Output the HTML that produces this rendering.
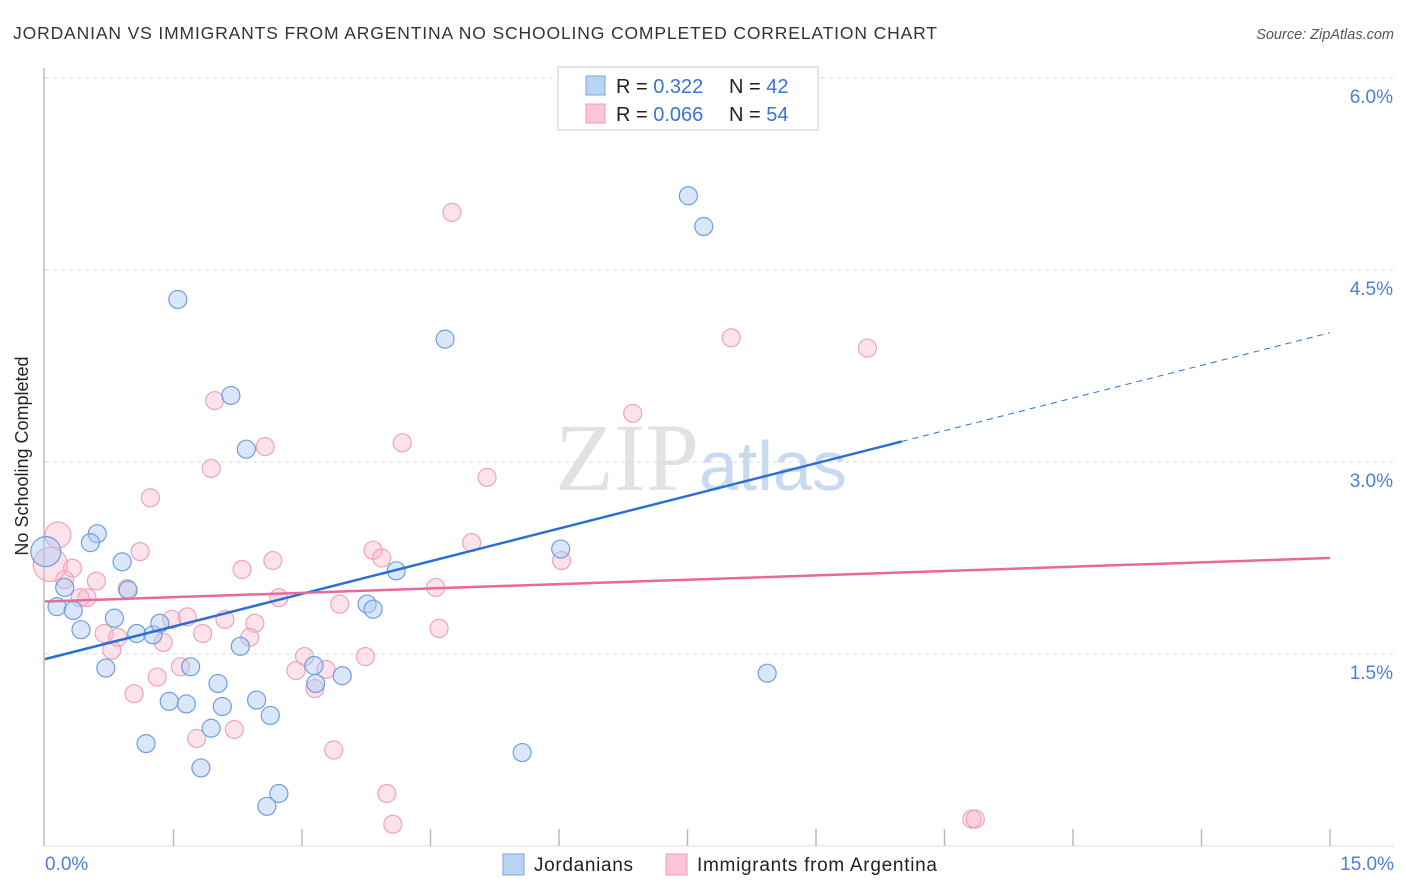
<!DOCTYPE html>
<html><head><meta charset="utf-8">
<style>
body{margin:0;background:#fff;font-family:"Liberation Sans",sans-serif;}
svg{display:block}
</style></head>
<body>
<svg id="chart" width="1406" height="892">
<text x="13" y="39" font-size="17.5" fill="#333" textLength="924" lengthAdjust="spacing">JORDANIAN VS IMMIGRANTS FROM ARGENTINA NO SCHOOLING COMPLETED CORRELATION CHART</text>
<text x="1394" y="39" font-size="14.5" fill="#555" font-style="italic" text-anchor="end">Source: ZipAtlas.com</text>
<text x="28" y="456" font-size="18" fill="#222" text-anchor="middle" transform="rotate(-90 28 456)">No Schooling Completed</text>
<text x="555" y="490" font-size="96" fill="#e2e2e2" font-family="Liberation Serif,serif">ZIP<tspan fill="#c8daf0" font-family="Liberation Sans,sans-serif" font-size="70">atlas</tspan></text>
<g id="grid"></g>
<g id="pts"></g>
<g id="lines"></g>
<g>
<rect x="558" y="67" width="260" height="63" fill="#fff" stroke="#ccc"/>
<rect x="586" y="76" width="19" height="19" fill="#b9d3f3" stroke="#7aa6e0"/>
<rect x="586" y="104" width="19" height="19" fill="#f9c6d5" stroke="#f09ab4"/>
<text x="616" y="93" font-size="20" fill="#222">R = <tspan fill="#3a74d4"> 0.322</tspan><tspan x="729">N = </tspan><tspan fill="#3a74d4">42</tspan></text>
<text x="616" y="121" font-size="20" fill="#222">R = <tspan fill="#3a74d4">0.066</tspan><tspan x="729">N = </tspan><tspan fill="#3a74d4">54</tspan></text>
</g>
<g>
<rect x="503" y="854" width="21" height="21" fill="#b9d3f3" stroke="#7aa6e0"/>
<text x="534" y="871" font-size="19" fill="#222" textLength="99">Jordanians</text>
<rect x="666" y="854" width="21" height="21" fill="#f9c6d5" stroke="#f09ab4"/>
<text x="697" y="871" font-size="19" fill="#222" textLength="240">Immigrants from Argentina</text>
</g>
</svg>
<script>
const blueX=[1.55,7.51,7.69,4.67,2.17,2.35,0.61,0.53,0.90,6.02,4.10,0.23,0.97,0.14,0.33,0.81,3.76,3.83,0.42,1.07,1.26,1.34,2.28,0.71,1.70,3.14,3.47,3.16,2.02,1.45,1.65,2.07,2.47,2.63,1.94,1.18,5.57,8.43,1.82,2.73,2.59,0.01];
const blueY=[4.27,5.08,4.84,3.96,3.52,3.10,2.44,2.37,2.22,2.32,2.15,2.02,2.00,1.87,1.84,1.78,1.89,1.85,1.69,1.66,1.65,1.74,1.56,1.39,1.40,1.41,1.33,1.27,1.27,1.13,1.11,1.09,1.14,1.02,0.92,0.80,0.73,1.35,0.61,0.41,0.31,2.30];
const pinkX=[4.75,8.01,9.60,6.86,1.98,2.57,4.17,1.94,5.16,1.23,0.15,4.98,1.11,3.83,3.93,2.66,6.03,0.32,2.30,0.23,0.60,4.56,0.96,0.49,2.73,0.41,3.44,1.48,1.66,2.10,2.45,0.69,0.85,1.38,1.84,2.39,4.60,0.78,3.03,3.74,1.58,2.93,3.28,1.31,1.04,3.15,2.21,1.77,3.37,3.99,4.06,10.82,10.86,0.06];
const pinkY=[4.95,3.97,3.89,3.38,3.48,3.12,3.15,2.95,2.88,2.72,2.43,2.37,2.30,2.31,2.25,2.23,2.23,2.17,2.16,2.08,2.07,2.02,2.01,1.94,1.94,1.94,1.89,1.77,1.79,1.77,1.74,1.66,1.63,1.59,1.66,1.63,1.70,1.53,1.48,1.48,1.40,1.37,1.38,1.32,1.19,1.23,0.91,0.84,0.75,0.41,0.17,0.21,0.21,2.20];
const blueBig=[41], pinkBig=[10,53];
const yTicks=[1.5,3.0,4.5,6.0];
const xTickLabels=["0.0%","15.0%"];
const blueTrend=[1.46,4.01], pinkTrend=[1.91,2.25];
const blueSolidEnd=10.0;

const NS="http://www.w3.org/2000/svg";
const sx=v=>45+v/15*1285;
const sy=v=>846-v/1.5*192;
function mk(tag,attrs,parent){const e=document.createElementNS(NS,tag);for(const k in attrs)e.setAttribute(k,attrs[k]);parent.appendChild(e);return e;}
const grid=document.getElementById('grid');
let ax=mk('line',{x1:44,y1:68,x2:44,y2:846,stroke:'#bbb','stroke-width':1.5},grid);


let bx=mk('line',{x1:44,y1:846,x2:1394,y2:846,stroke:'#ddd','stroke-width':1},grid);


yTicks.forEach(t=>{
 const g=mk('line',{x1:45,x2:1394,y1:sy(t),y2:sy(t),stroke:'#d8d8d8','stroke-dasharray':'4,4'},grid);
 
 
 const l=mk('text',{x:1393,y:sy(t)+25,'font-size':19,fill:'#4a80d8','text-anchor':'end'},grid);
 l.textContent=t.toFixed(1)+'%';
 
 
});
for(let i=1;i<=10;i++){
 const t=mk('line',{x1:sx(i*1.5),x2:sx(i*1.5),y1:829,y2:846,stroke:'#bbb','stroke-width':1.5},grid);
 
 
}
const xl0=mk('text',{x:45,y:870,'font-size':19,fill:'#4a80d8'},grid);xl0.textContent=xTickLabels[0];


const xl1=mk('text',{x:1394,y:870,'font-size':19,fill:'#4a80d8','text-anchor':'end'},grid);xl1.textContent=xTickLabels[1];



const pts=document.getElementById('pts');
pinkX.forEach((x,i)=>{
 const c=mk('circle',{cx:sx(x),cy:sy(pinkY[i]),r:pinkBig.includes(i)?(i==53?17:13):9,fill:'rgba(248,182,203,0.4)',stroke:'#f0a3bb','stroke-width':1.2},pts);
 
 
});
blueX.forEach((x,i)=>{
 const c=mk('circle',{cx:sx(x),cy:sy(blueY[i]),r:blueBig.includes(i)?15:9,fill:'rgba(170,202,242,0.45)',stroke:'#6e9ee0','stroke-width':1.2},pts);
 
 
});
const lines=document.getElementById('lines');
const bAt=x=>blueTrend[0]+(blueTrend[1]-blueTrend[0])*x/15;
const pAt=x=>pinkTrend[0]+(pinkTrend[1]-pinkTrend[0])*x/15;
let l1=mk('line',{x1:sx(0),y1:sy(bAt(0)),x2:sx(blueSolidEnd),y2:sy(bAt(blueSolidEnd)),stroke:'#2a6fd6','stroke-width':2.5},lines);


let l2=mk('line',{x1:sx(blueSolidEnd),y1:sy(bAt(blueSolidEnd)),x2:sx(15),y2:sy(bAt(15)),stroke:'#2a6fd6','stroke-width':1,'stroke-dasharray':'6,5'},lines);


let l3=mk('line',{x1:sx(0),y1:sy(pAt(0)),x2:sx(15),y2:sy(pAt(15)),stroke:'#e8699a','stroke-width':2.5},lines);


</script>
</body></html>
